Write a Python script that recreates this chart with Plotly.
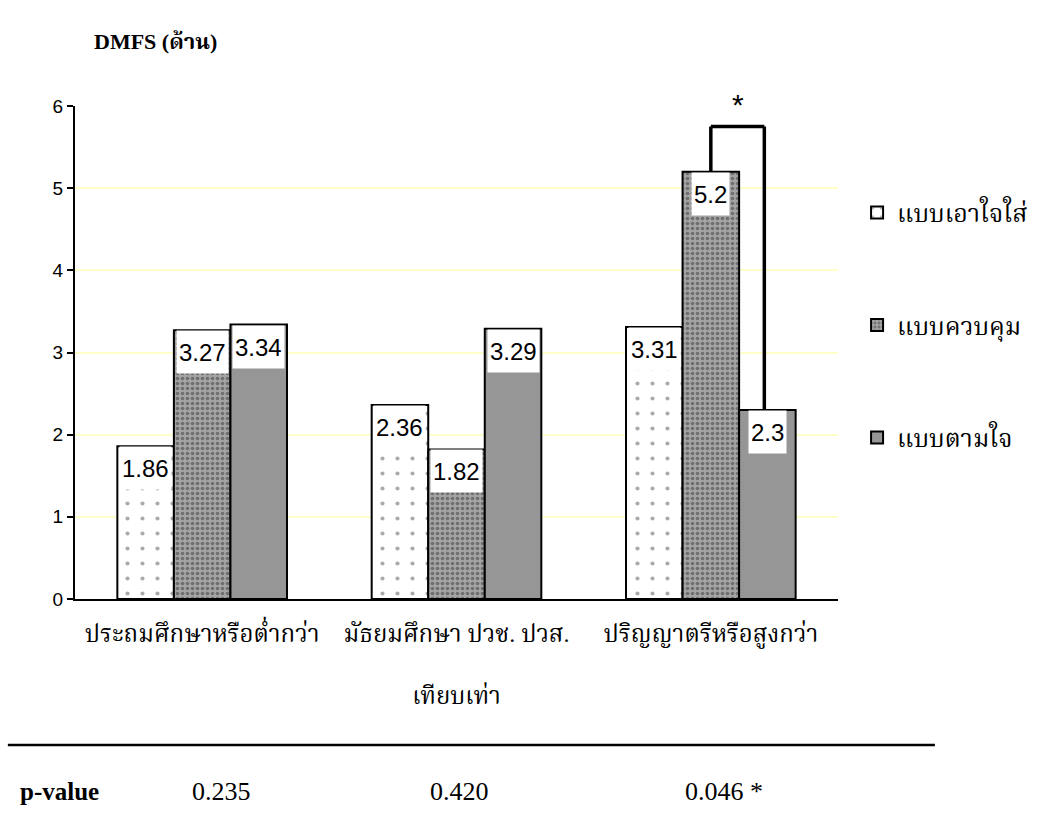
import plotly.graph_objects as go

# Education level groups (x axis) and parenting style series
categories = ["ประถมศึกษาหรือต่ำกว่า", "มัธยมศึกษา ปวช. ปวส.<br><br>เทียบเท่า", "ปริญญาตรีหรือสูงกว่า"]
series_names = ["แบบเอาใจใส่", "แบบควบคุม", "แบบตามใจ"]
caring = [1.86, 2.36, 3.31]
controlling = [3.27, 1.82, 5.2]
permissive = [3.34, 3.29, 2.3]
p_values = ["0.235", "0.420", "0.046 *"]
y_ticks = [0, 1, 2, 3, 4, 5, 6]

series_values = [caring, controlling, permissive]
patterns = [
    dict(shape=".", fgcolor="#555555", bgcolor="white", size=15, solidity=0.06),
    dict(shape=".", fgcolor="#3a3a3a", bgcolor="#a4a4a4", size=5, solidity=0.42),
    dict(shape="", bgcolor="#969696"),
]
fills = ["white", "#9a9a9a", "#969696"]

THAI_SERIF = "Liberation Serif, Noto Serif Thai, Noto Sans Thai, serif"
SANS = "Liberation Sans, Arial, sans-serif"

xs = list(range(len(categories)))
bargap = 0.333
bar_w = (1 - bargap) / len(series_values)
offsets = [(k - 1) * bar_w for k in range(len(series_values))]

fig = go.Figure()
for k, (name, vals) in enumerate(zip(series_names, series_values)):
    fig.add_trace(go.Bar(
        x=xs, y=vals, name=name, legendgroup=name,
        marker=dict(color=fills[k], pattern=patterns[k],
                    line=dict(color="black", width=2)),
        cliponaxis=False,
    ))

# value labels in white boxes near the top of each bar
annotations = []
for k, vals in enumerate(series_values):
    for i, v in enumerate(vals):
        annotations.append(dict(
            x=xs[i] + offsets[k], y=v, xref="x", yref="y",
            text=f"{v:g}", showarrow=False, yanchor="top", yshift=0,
            font=dict(family=SANS, size=24, color="black"),
            bgcolor="white", borderpad=2, height=38,
        ))

# significance bracket between controlling and permissive in the third group
g = 2
bracket_top = 5.75
x_left = xs[g] + offsets[1]
x_right = xs[g] + offsets[2] - 0.012
shapes = [
    dict(type="line", xref="x", yref="y", x0=x_left, x1=x_left,
         y0=controlling[g], y1=bracket_top, line=dict(color="black", width=3.5)),
    dict(type="line", xref="x", yref="y", x0=x_left, x1=x_right,
         y0=bracket_top, y1=bracket_top, line=dict(color="black", width=3.5)),
    dict(type="line", xref="x", yref="y", x0=x_right, x1=x_right,
         y0=permissive[g], y1=bracket_top, line=dict(color="black", width=3.5)),
    # rule above the p-value row
    dict(type="line", xref="paper", yref="paper", x0=-0.088, x1=1.127,
         y0=-0.296, y1=-0.296, line=dict(color="black", width=2.5)),
]
annotations.append(dict(
    x=(x_left + x_right) / 2, y=6, xref="x", yref="y", text="*",
    showarrow=False, font=dict(family=SANS, size=30, color="black"),
    bgcolor="white", borderpad=0, width=58, height=26, yshift=2,
))

# y axis title
annotations.append(dict(
    x=0.022, y=1.13, xref="paper", yref="paper", xanchor="left", yanchor="middle",
    text="<b>DMFS (ด้าน)</b>", showarrow=False,
    font=dict(family=THAI_SERIF, size=22, color="black"),
))

# p-value row
annotations.append(dict(
    x=-0.075, y=-0.391, xref="paper", yref="paper", xanchor="left", yanchor="middle",
    text="<b>p-value</b>", showarrow=False,
    font=dict(family=THAI_SERIF, size=25, color="black"),
))
p_left = [0.151, 0.463, 0.797]
for px, pv in zip(p_left, p_values):
    annotations.append(dict(
        x=px, y=-0.391, xref="paper", yref="paper", xanchor="left", yanchor="middle",
        text=pv, showarrow=False,
        font=dict(family=THAI_SERIF, size=26, color="black"),
    ))

fig.update_layout(
    width=1037, height=823,
    margin=dict(l=75, r=199, t=106, b=224, autoexpand=False),
    paper_bgcolor="white", plot_bgcolor="white",
    barmode="group", bargap=bargap, bargroupgap=0,
    showlegend=True,
    legend=dict(
        x=1.025, y=0.83, xanchor="left", yanchor="top",
        font=dict(family=THAI_SERIF, size=25, color="black"),
        tracegroupgap=77, bgcolor="rgba(0,0,0,0)",
    ),
    xaxis=dict(
        range=[-0.5, 2.5], tickmode="array", tickvals=xs, ticktext=categories,
        showgrid=False, zeroline=False, showline=True, linecolor="black", linewidth=2,
        ticks="", tickfont=dict(family=THAI_SERIF, size=24, color="black"),
        ticklabelstandoff=12,
    ),
    yaxis=dict(
        range=[0, 6], tickmode="array", tickvals=y_ticks,
        showgrid=True, gridcolor="#FFFFC8", gridwidth=1.5,
        zeroline=False, showline=True, linecolor="black", linewidth=2,
        ticks="outside", ticklen=6, tickwidth=2, tickcolor="black",
        tickfont=dict(family=SANS, size=19, color="black"),
    ),
    shapes=shapes,
    annotations=annotations,
)

fig.write_html("out.html")
